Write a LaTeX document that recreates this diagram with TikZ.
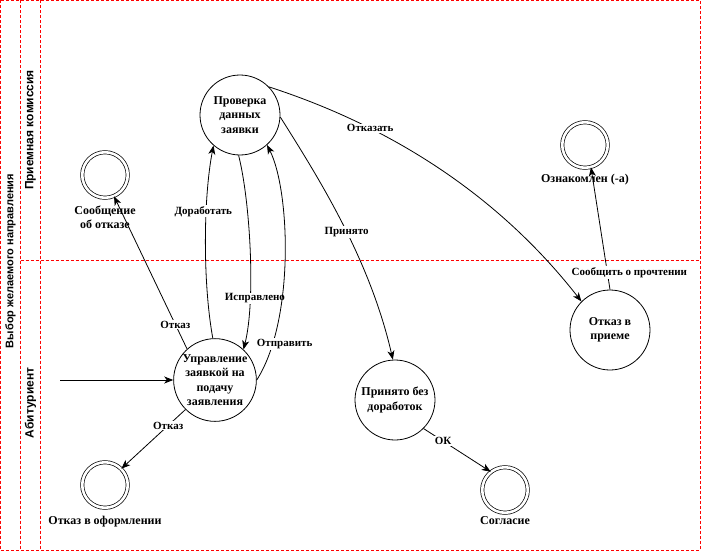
\documentclass[tikz,border=0pt]{standalone}
\usepackage{fontspec}
\setmainfont{Liberation Serif}
\newfontfamily\lanefont{Liberation Sans}
\usetikzlibrary{arrows.meta,positioning}
\begin{document}
\begin{tikzpicture}[x=1pt,y=-1pt,line width=0.8pt,
	lane/.style={red,dash pattern=on 3pt off 2pt,line width=0.9pt},
	lanelbl/.style={rotate=90,font=\lanefont\bfseries\fontsize{12}{14}\selectfont},
	stnode/.style={circle,draw,minimum size=80pt,inner sep=0pt,align=center,font=\bfseries\fontsize{12}{14.5}\selectfont},
	endnode/.style={circle,draw,double,double distance=2.6pt,line width=0.7pt,minimum size=45.5pt,inner sep=0pt},
	endlbl/.style={align=center,inner sep=0pt,font=\bfseries\fontsize{12}{14.5}\selectfont},
	elbl/.style={fill=white,inner sep=1pt,font=\bfseries\fontsize{11}{13}\selectfont},
	arr/.style={-{Stealth[length=9pt,width=7pt,inset=2.5pt]}}]
	\useasboundingbox (0,0) rectangle (701,551);
	% swimlanes
	\draw[lane] (0.5,0.5) rectangle (700,550);
	\draw[lane] (20.5,0.5) -- (20.5,550);
	\draw[lane] (40.5,0.5) -- (40.5,550);
	\draw[lane] (20.5,260.5) -- (700,260.5);
	\node[lanelbl,font=\lanefont\bfseries\fontsize{11}{13}\selectfont] (pool) at (10.5,261) {Выбор желаемого направления};
	\node[lanelbl] (lanetop) at (30.5,130) {Приемная комиссия};
	\node[lanelbl] (lanebot) at (30.5,403) {Абитуриент};
	% states
	\node[stnode] (check) at (240,115) {Проверка\\данных\\заявки};
	\node[stnode] (manage) at (215,380) {Управление\\заявкой на\\подачу\\заявления};
	\node[stnode] (accepted) at (395,400) {Принято без\\доработок};
	\node[stnode] (refused) at (610,330) {Отказ в\\приеме};
	\node[endnode] (fmsg) at (105,175) {};
	\node[endnode] (fdeny) at (105,485) {};
	\node[endnode] (fagree) at (505,490) {};
	\node[endnode] (fread) at (585,145) {};
	\node[endlbl,below=7pt of fmsg] (fmsgl) {Сообщение\\об отказе};
	\node[endlbl,below=8pt of fdeny] (fdenyl) {Отказ в оформлении};
	\node[endlbl,below=3pt of fagree] (fagreel) {Согласие};
	\node[endlbl,below=6pt of fread] (freadl) {Ознакомлен (-а)};
	\coordinate (start) at (60,380);
	% transitions
	\draw[arr] (start) -- (manage);
	\draw[arr] (manage.132) -- node[elbl,pos=0.16] {Отказ} (fmsg.293);
	\draw[arr] (manage.225) -- node[elbl,pos=0.27] {Отказ} (fdeny.45);
	\draw[arr] (manage.93) .. controls (203,285) and (203,200) .. node[elbl,pos=0.65,xshift=-3pt] {Доработать} (check.229);
	\draw[arr] (check.268) .. controls (250,200) and (256,300) .. node[elbl,pos=0.72,xshift=5pt] {Исправлено} (manage.47);
	\draw[arr] (manage.east) .. controls (295,320) and (290,190) .. node[elbl,pos=0.17,xshift=12pt] {Отправить} (check.312);
	\draw[arr] (check.357) .. controls (320,180) and (370,260) .. node[elbl,pos=0.53] {Принято} (accepted.93);
	\draw[arr] (check.44) .. controls (365,118) and (485,178) .. node[elbl,pos=0.33] {Отказать} (refused.135);
	\draw[arr] (refused.north) -- node[elbl,pos=0.14,xshift=22pt] {Сообщить о прочтении} (fread.285);
	\draw[arr] (accepted.315) -- node[elbl,pos=0.29] {ОК} (fagree.128);
\end{tikzpicture}
\end{document}
